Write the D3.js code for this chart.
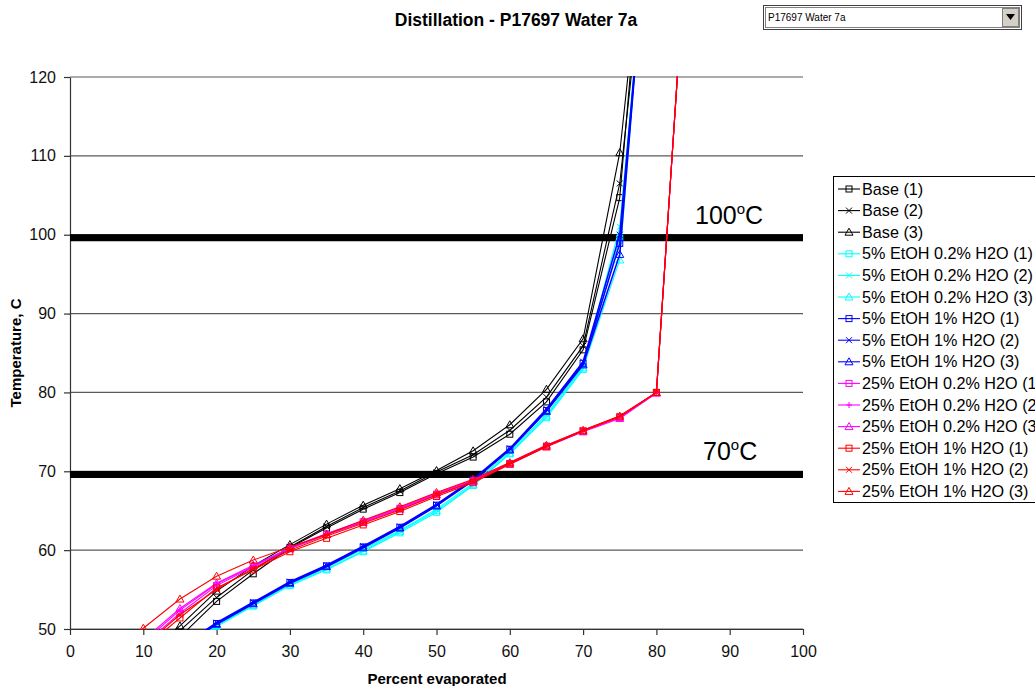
<!DOCTYPE html>
<html><head><meta charset="utf-8">
<script src="https://cdn.jsdelivr.net/npm/d3@7"></script>
<style>
body{margin:0;background:#fff;overflow:hidden;}
text{font-family:"Liberation Sans",Arial,sans-serif;}
</style>
</head><body>
<svg id="chart" width="1035" height="686"></svg>
<script>
// ---------- data ----------
const percent = [5,10,15,20,25,30,35,40,45,50,55,60,65,70,75,80,85];

const base1 = [null,45.0,49.0,53.5,57.0,60.3,62.8,65.2,67.3,69.7,71.8,74.7,78.8,85.4,104.7,159,null];
const base2 = [null,45.8,49.8,54.0,57.5,60.4,63.0,65.4,67.5,69.9,72.1,75.2,79.4,85.9,106.5,150,null];
const base3 = [null,46.5,50.4,54.8,58.0,60.7,63.3,65.7,67.8,70.1,72.6,75.9,80.4,86.8,110.4,154,null];

const e5w02_1 = [null,null,47.0,50.3,52.9,55.5,57.5,59.8,62.2,64.8,68.2,72.2,76.8,82.9,99.5,154,null];
const e5w02_2 = [null,null,47.2,50.5,53.1,55.7,57.8,60.1,62.5,65.2,68.5,72.5,77.2,83.3,101.0,152,null];
const e5w02_3 = [null,null,47.1,50.4,53.0,55.6,57.6,59.9,62.4,65.0,68.3,72.3,77.0,83.1,96.8,155,null];

const e5w1_1 = [null,null,47.6,50.7,53.3,55.9,58.0,60.4,62.9,65.7,68.9,72.8,77.7,83.7,98.9,153,null];
const e5w1_2 = [null,null,47.7,50.8,53.4,56.0,58.1,60.5,63.0,65.8,69.0,72.9,77.9,83.9,100.0,152,null];
const e5w1_3 = [null,null,47.5,50.6,53.2,55.8,57.9,60.3,62.8,65.6,68.8,72.7,77.6,83.5,97.5,154,null];

const e25w02_1 = [null,48.0,52.0,55.5,57.9,60.2,62.0,63.6,65.3,67.1,68.8,71.0,73.2,75.1,76.8,80.0,150];
const e25w02_2 = [null,48.3,52.4,55.7,58.0,60.3,62.1,63.7,65.4,67.2,68.9,71.1,73.3,75.2,76.9,80.0,150];
const e25w02_3 = [null,48.6,52.6,55.8,58.1,60.2,62.0,63.5,65.2,67.0,68.7,70.9,73.1,75.0,76.7,79.9,150];

const e25w1_1 = [null,47.5,51.4,55.2,57.5,59.8,61.5,63.2,64.9,66.8,68.55,70.9,73.1,75.1,76.9,80.0,150];
const e25w1_2 = [null,47.8,51.8,55.0,57.7,60.0,61.8,63.4,65.1,67.0,68.7,71.0,73.2,75.2,77.0,80.0,150];
const e25w1_3 = [46.0,50.1,53.8,56.7,58.75,60.4,62.0,63.8,65.5,67.3,69.0,71.1,73.3,75.2,77.0,80.0,150];

const seriesNames = [
  "Base (1)","Base (2)","Base (3)",
  "5% EtOH 0.2% H2O (1)","5% EtOH 0.2% H2O (2)","5% EtOH 0.2% H2O (3)",
  "5% EtOH 1% H2O (1)","5% EtOH 1% H2O (2)","5% EtOH 1% H2O (3)",
  "25% EtOH 0.2% H2O (1)","25% EtOH 0.2% H2O (2)","25% EtOH 0.2% H2O (3)",
  "25% EtOH 1% H2O (1)","25% EtOH 1% H2O (2)","25% EtOH 1% H2O (3)"
];
const seriesValues = [base1,base2,base3,e5w02_1,e5w02_2,e5w02_3,e5w1_1,e5w1_2,e5w1_3,
  e25w02_1,e25w02_2,e25w02_3,e25w1_1,e25w1_2,e25w1_3];
const seriesColors = ["#000000","#000000","#000000","#00FFFF","#00FFFF","#00FFFF",
  "#0000FF","#0000FF","#0000FF","#FF00FF","#FF00FF","#FF00FF","#FF0000","#FF0000","#FF0000"];
const seriesMarkers = ["square","x","triangle","square","x","triangle","square","x","triangle",
  "square","plus","triangle","square","x","triangle"];

const xTickValues = [0,10,20,30,40,50,60,70,80,90,100];
const yTickValues = [50,60,70,80,90,100,110,120];
const refLineValues = [69.6, 99.6];
const refLabelNumbers = ["70","100"];

const titleText = "Distillation - P17697 Water 7a";
const xTitle = "Percent evaporated";
const yTitle = "Temperature, C";
const dropdownText = "P17697 Water 7a";

// ---------- layout ----------
const svg = d3.select("#chart");
const L = 70, R = 803, T = 77, B = 629;
const x = d3.scaleLinear().domain([0,100]).range([L,R]);
const y = d3.scaleLinear().domain([50,120]).range([B,T]);

svg.append("defs").append("clipPath").attr("id","plotclip")
  .append("rect").attr("x",L).attr("y",T-1).attr("width",R-L+1).attr("height",B-T+2);

// gridlines
svg.append("g").selectAll("line").data(yTickValues).join("line")
  .attr("x1",L).attr("x2",R).attr("y1",d=>y(d)).attr("y2",d=>y(d))
  .attr("stroke","#5a5a5a").attr("stroke-width",1.2);

// axes
const xAxis = svg.append("g").attr("transform",`translate(0,${B})`)
  .call(d3.axisBottom(x).tickValues(xTickValues).tickSize(6).tickPadding(11).tickSizeOuter(0));
const yAxis = svg.append("g").attr("transform",`translate(${L},0)`)
  .call(d3.axisLeft(y).tickValues(yTickValues).tickSize(6).tickPadding(8).tickSizeOuter(0));
[xAxis,yAxis].forEach(a=>{
  a.selectAll("path,line").attr("stroke","#333").attr("stroke-width",1.2);
  a.selectAll("text").attr("font-family","'Liberation Sans',Arial,sans-serif")
    .attr("font-size",16).attr("fill","#111");
});

// reference thick lines
svg.append("g").selectAll("line").data(refLineValues).join("line")
  .attr("x1",L).attr("x2",R).attr("y1",d=>y(d)).attr("y2",d=>y(d))
  .attr("stroke","#000").attr("stroke-width",7);

// series
const plot = svg.append("g").attr("clip-path","url(#plotclip)");
const line = d3.line().defined(d=>d[1]!=null).x(d=>x(d[0])).y(d=>y(d[1]));

function drawMarker(g, type, cx, cy, color){
  const s = 3;
  if(type==="square"){
    g.append("rect").attr("x",cx-s).attr("y",cy-s).attr("width",2*s).attr("height",2*s)
      .attr("fill","none").attr("stroke",color).attr("stroke-width",1);
  } else if(type==="triangle"){
    g.append("path").attr("d",`M${cx},${cy-4}L${cx+4},${cy+3}L${cx-4},${cy+3}Z`)
      .attr("fill","none").attr("stroke",color).attr("stroke-width",1);
  } else if(type==="x"){
    g.append("path").attr("d",`M${cx-s},${cy-s}L${cx+s},${cy+s}M${cx-s},${cy+s}L${cx+s},${cy-s}`)
      .attr("stroke",color).attr("stroke-width",1);
  } else if(type==="plus"){
    g.append("path").attr("d",`M${cx-s},${cy}L${cx+s},${cy}M${cx},${cy-s}L${cx},${cy+s}`)
      .attr("stroke",color).attr("stroke-width",1);
  }
}

seriesValues.forEach((vals,i)=>{
  const pts = percent.map((p,j)=>[p,vals[j]]);
  const g = plot.append("g");
  const isBlue = seriesColors[i]==="#0000FF";
  g.append("path").datum(pts).attr("d",line).attr("fill","none")
    .attr("stroke",seriesColors[i]).attr("stroke-width",isBlue?1.5:1.1);
  pts.filter(d=>d[1]!=null).forEach(d=>drawMarker(g,seriesMarkers[i],x(d[0]),y(d[1]),seriesColors[i]));
});

// reference labels
refLineValues.forEach((v,i)=>{
  const t = svg.append("text").attr("x", i===1?695:703).attr("y", y(v)-14)
    .attr("font-size",25).attr("fill","#000");
  t.append("tspan").text(refLabelNumbers[i]);
  t.append("tspan").attr("font-size",15).attr("dy",-10).text("o");
  t.append("tspan").attr("font-size",25).attr("dy",10).text("C");
});

// titles
svg.append("text").attr("x",516).attr("y",26).attr("text-anchor","middle")
  .attr("font-size",17.5).attr("font-weight","bold").text(titleText);
svg.append("text").attr("x",437).attr("y",684).attr("text-anchor","middle")
  .attr("font-size",15).attr("font-weight","bold").text(xTitle);
svg.append("text").attr("transform","translate(21,353) rotate(-90)").attr("text-anchor","middle")
  .attr("font-size",15).attr("font-weight","bold").text(yTitle);

// legend
const lg = svg.append("g");
const ly0 = 176, lh = 21.6;
lg.append("rect").attr("x",833.5).attr("y",ly0+0.5).attr("width",220).attr("height",326)
  .attr("fill","#fff").attr("stroke","#000").attr("stroke-width",1);
seriesNames.forEach((n,i)=>{
  const cy = ly0 + 13 + i*lh;
  lg.append("line").attr("x1",838).attr("x2",860).attr("y1",cy).attr("y2",cy)
    .attr("stroke",seriesColors[i]).attr("stroke-width",1.1);
  drawMarker(lg, seriesMarkers[i], 849, cy, seriesColors[i]);
  lg.append("text").attr("x",862).attr("y",cy+5.5).attr("font-size",16.2).attr("fill","#000").text(n);
});

// dropdown
const dd = svg.append("g");
dd.append("rect").attr("x",763.5).attr("y",5.5).attr("width",258).attr("height",24)
  .attr("fill","#fff").attr("stroke","#404040");
dd.append("rect").attr("x",765.5).attr("y",7.5).attr("width",254).attr("height",20)
  .attr("fill","none").attr("stroke","#808080");
dd.append("rect").attr("x",1002.5).attr("y",8.5).attr("width",16).attr("height",18)
  .attr("fill","#d4d0c8").attr("stroke","#808080");
dd.append("path").attr("d","M1006,14L1015,14L1010.5,20Z").attr("fill","#000");
dd.append("text").attr("x",768).attr("y",21).attr("font-size",10).text(dropdownText);
</script>
</body></html>
